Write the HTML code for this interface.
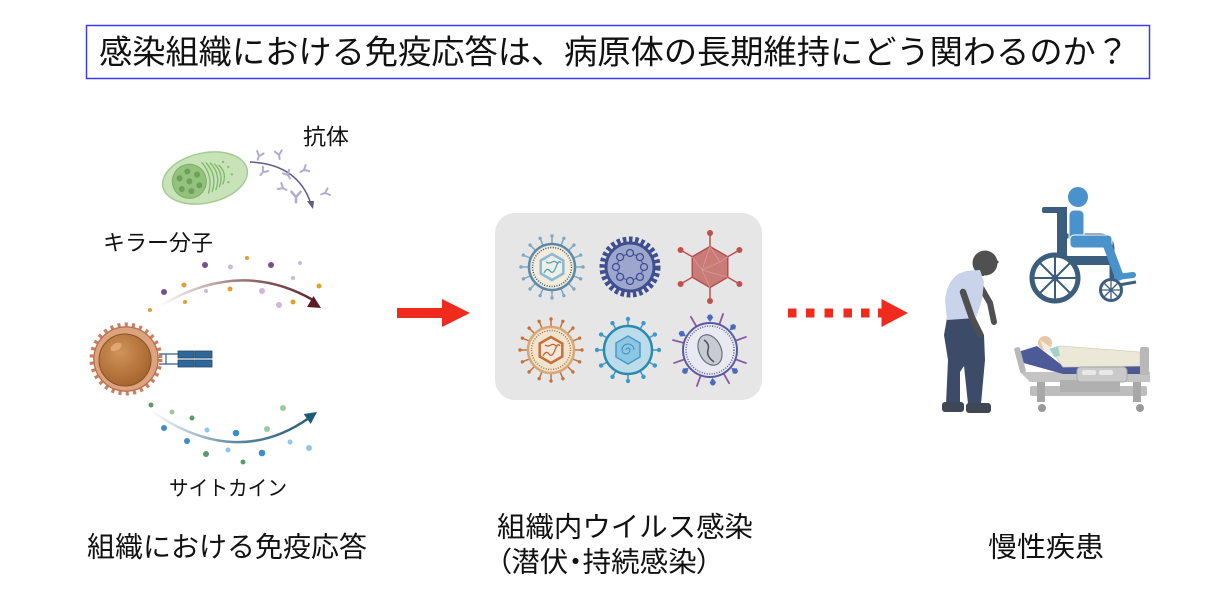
<!DOCTYPE html>
<html><head><meta charset="utf-8">
<style>
html,body{margin:0;padding:0;background:#fff;}
svg{display:block;}
text{font-family:"Liberation Sans","Noto Sans CJK JP",sans-serif;fill:#111;}
.palt{font-feature-settings:"palt" 1;}
</style></head>
<body>
<svg width="1222" height="615" viewBox="0 0 1222 615" xmlns="http://www.w3.org/2000/svg">
<defs>
  <g id="sp"><line x1="0" y1="-23" x2="0" y2="-30"/><circle cx="0" cy="-31" r="1.7" stroke="none"/></g>
  <g id="sp5"><line x1="0" y1="-24" x2="0" y2="-30"/><circle cx="0" cy="-31" r="2.2" stroke="none"/></g>
  <g id="sp6"><line x1="0" y1="-27" x2="0" y2="-39"/></g>
  <g id="bl6"><path d="M-3.5,-33 L3.5,-33 L0,-28 Z" stroke="none"/><circle cx="0" cy="-33" r="2.6" stroke="none"/></g>
  <g id="ab"><path d="M0,4 L0,0 L-3.5,-4 M0,0 L3.5,-4" fill="none" stroke-width="2" stroke-linecap="round"/></g>
  <linearGradient id="gk" x1="160" y1="0" x2="320" y2="0" gradientUnits="userSpaceOnUse">
    <stop offset="0" stop-color="#5a1e22" stop-opacity="0"/>
    <stop offset="0.5" stop-color="#5a1e22" stop-opacity="0.6"/>
    <stop offset="1" stop-color="#5a1e22"/>
  </linearGradient>
  <linearGradient id="gc" x1="150" y1="0" x2="316" y2="0" gradientUnits="userSpaceOnUse">
    <stop offset="0" stop-color="#1e5a78" stop-opacity="0"/>
    <stop offset="0.5" stop-color="#1e5a78" stop-opacity="0.7"/>
    <stop offset="1" stop-color="#1e5a78"/>
  </linearGradient>
  <radialGradient id="gn" cx="0.4" cy="0.35" r="0.7">
    <stop offset="0" stop-color="#cf9358"/>
    <stop offset="1" stop-color="#a5622c"/>
  </radialGradient>
</defs>

<!-- Title -->
<rect x="86.5" y="25.5" width="1063" height="53" fill="#fff" stroke="#3b3bef" stroke-width="1.5"/>
<text x="99" y="52" font-size="33" dominant-baseline="central" textLength="1030" lengthAdjust="spacingAndGlyphs">感染組織における免疫応答は、病原体の長期維持にどう関わるのか？</text>

<!-- Plasma cell (green) -->
<g transform="rotate(-12 205 178)">
  <ellipse cx="205" cy="178" rx="43" ry="25" fill="#c9e3b9" stroke="#a4cb90" stroke-width="1.5"/>
  <circle cx="189" cy="178" r="17" fill="#93c27c" stroke="#7dad68" stroke-width="1"/>
  <g fill="#6f9f5d">
    <circle cx="189" cy="178" r="3"/>
    <circle cx="189" cy="168" r="3"/><circle cx="189" cy="188" r="3"/>
    <circle cx="180" cy="173" r="3"/><circle cx="198" cy="173" r="3"/>
    <circle cx="180" cy="184" r="3"/><circle cx="198" cy="184" r="3"/>
  </g>
  <g fill="none" stroke="#7fb86a" stroke-width="1.3">
    <path d="M205,162 Q214,178 205,194"/>
    <path d="M209,163 Q218,178 209,193"/>
    <path d="M213,164 Q222,178 213,192"/>
    <path d="M217,166 Q225,178 217,190"/>
    <path d="M221,168 Q228,178 221,188"/>
  </g>
  <g fill="#8cbd76"><circle cx="230" cy="172" r="1.2"/><circle cx="232" cy="180" r="1.2"/><circle cx="227" cy="187" r="1.2"/><circle cx="226" cy="166" r="1.2"/></g>
</g>
<!-- antibodies -->
<path d="M250,162 Q298,164 311,204" fill="none" stroke="#5e5a8a" stroke-width="1.5"/>
<path d="M313,209 L307,201 L314,201 Z" fill="#5e5a8a"/>
<g stroke="#b2adcf">
  <use href="#ab" transform="translate(259,156) rotate(20)"/>
  <use href="#ab" transform="translate(279,155) rotate(-10)"/>
  <use href="#ab" transform="translate(263,172) rotate(40)"/>
  <use href="#ab" transform="translate(288,175) rotate(-30)"/>
  <use href="#ab" transform="translate(304,170) rotate(60)"/>
  <use href="#ab" transform="translate(296,197) rotate(0) scale(1.3)"/>
  <use href="#ab" transform="translate(325,193) rotate(70)"/>
  <use href="#ab" transform="translate(283,188) rotate(-60)"/>
</g>
<text x="303" y="137" font-size="22" dominant-baseline="central" textLength="46" lengthAdjust="spacingAndGlyphs">抗体</text>

<!-- Killer molecules -->
<text x="103" y="243" font-size="22" dominant-baseline="central" textLength="110" lengthAdjust="spacingAndGlyphs">キラー分子</text>
<path d="M160,306 Q240,258 313,300" fill="none" stroke="url(#gk)" stroke-width="2.5"/>
<path d="M321,308 L307,307 L313.5,296 Z" fill="#5a1e22"/>
<g fill="#7a4f8f"><circle cx="205" cy="265" r="3"/><circle cx="271" cy="265" r="3"/><circle cx="164" cy="292" r="3"/></g>
<g fill="#cbb8da"><circle cx="230.5" cy="267" r="2.5"/><circle cx="206" cy="291" r="2"/><circle cx="262" cy="291" r="3"/><circle cx="279" cy="305" r="3"/><circle cx="300" cy="263" r="2"/><circle cx="293" cy="278" r="2"/></g>
<g fill="#e0a030"><circle cx="247" cy="258" r="2"/><circle cx="184" cy="285" r="2.5"/><circle cx="230" cy="289" r="2.5"/><circle cx="185" cy="302" r="2"/><circle cx="150" cy="310" r="2"/><circle cx="319" cy="286" r="2.5"/><circle cx="293" cy="302" r="2.5"/></g>

<!-- Orange T cell -->
<circle cx="126" cy="359" r="33" fill="#dba17a" stroke="#c98062" stroke-width="7" stroke-dasharray="3 4"/>
<circle cx="126" cy="359" r="32" fill="#dca37c" stroke="#b86a50" stroke-width="1"/>
<circle cx="125" cy="360" r="26" fill="url(#gn)" stroke="#8a5028" stroke-width="1"/>
<ellipse cx="116" cy="347" rx="6" ry="3.5" fill="#e2b07e" opacity="0.8" transform="rotate(-30 116 347)"/>
<!-- receptor -->
<g stroke="#2f5f88" stroke-width="1.2"><line x1="159" y1="354" x2="178" y2="354"/><line x1="159" y1="364" x2="178" y2="364"/><line x1="166" y1="354" x2="166" y2="364"/></g>
<g fill="#2f6896" stroke="#1f4a70" stroke-width="0.8">
  <rect x="178" y="351" width="16" height="7"/><rect x="195" y="351" width="17" height="7"/>
  <rect x="178" y="360" width="16" height="7"/><rect x="195" y="360" width="17" height="7"/>
</g>

<!-- Cytokines -->
<path d="M150,410 Q235,470 309,418" fill="none" stroke="url(#gc)" stroke-width="2.5"/>
<path d="M317,412 L310.7,424 L303.7,414 Z" fill="#1e5a78"/>
<g fill="#5a9a6a"><circle cx="151" cy="405" r="2.5"/><circle cx="192" cy="418" r="2.5"/><circle cx="206" cy="454" r="3"/><circle cx="243" cy="462" r="2.5"/></g>
<g fill="#9ccaa0"><circle cx="172" cy="412" r="2.5"/><circle cx="267" cy="429" r="3"/><circle cx="283" cy="408" r="3"/></g>
<g fill="#3a8fc8"><circle cx="164" cy="428" r="3"/><circle cx="187" cy="441" r="3"/><circle cx="236" cy="433" r="3.3"/><circle cx="262" cy="453" r="3.3"/></g>
<g fill="#8cc8e8"><circle cx="207" cy="430" r="2.5"/><circle cx="228" cy="450" r="2.5"/><circle cx="290" cy="442" r="2.5"/><circle cx="309" cy="448" r="3"/></g>
<text x="169" y="489" font-size="21" dominant-baseline="central" textLength="118" lengthAdjust="spacingAndGlyphs">サイトカイン</text>

<!-- Red arrow solid -->
<rect x="397" y="308" width="46" height="10" fill="#f02a1c"/>
<path d="M442,299 L470,313 L442,327 Z" fill="#f02a1c"/>

<!-- Gray box with viruses -->
<rect x="495" y="213" width="267" height="187" rx="20" fill="#e6e6e6"/>

<!-- V1 -->
<g transform="translate(552,267)" stroke="#7ea8c4" fill="#7ea8c4" stroke-width="1.5">
  <use href="#sp"/><use href="#sp" transform="rotate(22.5)"/><use href="#sp" transform="rotate(45)"/><use href="#sp" transform="rotate(67.5)"/>
  <use href="#sp" transform="rotate(90)"/><use href="#sp" transform="rotate(112.5)"/><use href="#sp" transform="rotate(135)"/><use href="#sp" transform="rotate(157.5)"/>
  <use href="#sp" transform="rotate(180)"/><use href="#sp" transform="rotate(202.5)"/><use href="#sp" transform="rotate(225)"/><use href="#sp" transform="rotate(247.5)"/>
  <use href="#sp" transform="rotate(270)"/><use href="#sp" transform="rotate(292.5)"/><use href="#sp" transform="rotate(315)"/><use href="#sp" transform="rotate(337.5)"/>
</g>
<circle cx="552" cy="267" r="23" fill="#f1ecdc" stroke="#5e8aa8" stroke-width="2.5"/>
<circle cx="552" cy="267" r="19.5" fill="none" stroke="#3d5668" stroke-width="1.5" stroke-dasharray="1 1.5"/>
<polygon points="552,254 563.3,260.5 563.3,273.5 552,280 540.7,273.5 540.7,260.5" fill="#eef0e6" stroke="#8cb8d8" stroke-width="2.5"/>
<path d="M544,273 q3,-6 6,-2 t6,-4 t5,-4 M546,262 q3,2 6,0 t6,2" fill="none" stroke="#4aa0b8" stroke-width="1.2"/>

<!-- V2 -->
<circle cx="630" cy="267" r="27" fill="none" stroke="#3f4f91" stroke-width="7" stroke-dasharray="3.5 2.5"/>
<circle cx="630" cy="267" r="24" fill="#9da6cc" stroke="#3f4f91" stroke-width="3"/>
<polygon points="644,267 639.9,276.9 630,281 620.1,276.9 616,267 620.1,257.1 630,253 639.9,257.1" fill="none" stroke="#3f4f91" stroke-width="1"/>
<g fill="#9da6cc" stroke="#3f4f91" stroke-width="1.3">
  <circle cx="644" cy="267" r="3.5"/><circle cx="639.9" cy="276.9" r="3.5"/><circle cx="630" cy="281" r="3.5"/><circle cx="620.1" cy="276.9" r="3.5"/>
  <circle cx="616" cy="267" r="3.5"/><circle cx="620.1" cy="257.1" r="3.5"/><circle cx="630" cy="253" r="3.5"/><circle cx="639.9" cy="257.1" r="3.5"/>
</g>

<!-- V3 -->
<g stroke="#c0504d" stroke-width="1.5">
  <line x1="710" y1="246.5" x2="710" y2="233"/><line x1="727.75" y1="256.75" x2="739.4" y2="250"/><line x1="727.75" y1="277.25" x2="739.4" y2="284"/>
  <line x1="710" y1="287.5" x2="710" y2="301"/><line x1="692.25" y1="277.25" x2="680.6" y2="284"/><line x1="692.25" y1="256.75" x2="680.6" y2="250"/>
</g>
<g fill="#c0504d"><circle cx="710" cy="233" r="3"/><circle cx="739.4" cy="250" r="3"/><circle cx="739.4" cy="284" r="3"/><circle cx="710" cy="301" r="3"/><circle cx="680.6" cy="284" r="3"/><circle cx="680.6" cy="250" r="3"/></g>
<polygon points="710,246.5 727.75,256.75 727.75,277.25 710,287.5 692.25,277.25 692.25,256.75" fill="#c97b78" stroke="#b4504e" stroke-width="1.5"/>
<path d="M710,246.5 L702,270 L710,287.5 M702,270 L692.25,256.75 M702,270 L727.75,277.25 M710,246.5 L720,262 L727.75,256.75 M720,262 L702,270" fill="none" stroke="#d89a98" stroke-width="0.8"/>

<!-- V4 -->
<g transform="translate(551,350)" stroke="#c8703a" fill="#c8703a" stroke-width="1.5">
  <use href="#sp"/><use href="#sp" transform="rotate(22.5)"/><use href="#sp" transform="rotate(45)"/><use href="#sp" transform="rotate(67.5)"/>
  <use href="#sp" transform="rotate(90)"/><use href="#sp" transform="rotate(112.5)"/><use href="#sp" transform="rotate(135)"/><use href="#sp" transform="rotate(157.5)"/>
  <use href="#sp" transform="rotate(180)"/><use href="#sp" transform="rotate(202.5)"/><use href="#sp" transform="rotate(225)"/><use href="#sp" transform="rotate(247.5)"/>
  <use href="#sp" transform="rotate(270)"/><use href="#sp" transform="rotate(292.5)"/><use href="#sp" transform="rotate(315)"/><use href="#sp" transform="rotate(337.5)"/>
</g>
<circle cx="551" cy="350" r="23" fill="#f1e4cf" stroke="#d6a878" stroke-width="2.5"/>
<circle cx="551" cy="350" r="19.5" fill="none" stroke="#b0703e" stroke-width="1.5" stroke-dasharray="1 1.5"/>
<polygon points="551,337 562.3,343.5 562.3,356.5 551,363 539.7,356.5 539.7,343.5" fill="#f3e8d8" stroke="#c8703a" stroke-width="2.5"/>
<path d="M543,356 q3,-6 6,-2 t6,-4 t5,-4 M545,345 q3,2 6,0 t6,2" fill="none" stroke="#c0603a" stroke-width="1.2"/>

<!-- V5 -->
<g transform="translate(628,350)" stroke="#3a9ac8" fill="#3a9ac8" stroke-width="1.5">
  <use href="#sp5"/><use href="#sp5" transform="rotate(30)"/><use href="#sp5" transform="rotate(60)"/><use href="#sp5" transform="rotate(90)"/>
  <use href="#sp5" transform="rotate(120)"/><use href="#sp5" transform="rotate(150)"/><use href="#sp5" transform="rotate(180)"/><use href="#sp5" transform="rotate(210)"/>
  <use href="#sp5" transform="rotate(240)"/><use href="#sp5" transform="rotate(270)"/><use href="#sp5" transform="rotate(300)"/><use href="#sp5" transform="rotate(330)"/>
</g>
<circle cx="628" cy="350" r="24" fill="#bddcea" stroke="#2a8ab0" stroke-width="2.5"/>
<polygon points="628,336 640,343 640,357 628,364 616,357 616,343" fill="#8cc8e4" stroke="#4a9ac8" stroke-width="1.5"/>
<path d="M628,350 m-2,0 a2,2 0 1,1 4,0 a4,4 0 1,1 -8,0 a6,6 0 1,1 12,0" fill="none" stroke="#3a8ab8" stroke-width="1"/>

<!-- V6 -->
<g transform="translate(710,350)" stroke="#8a5aa8" stroke-width="1.8">
  <use href="#sp6" transform="rotate(20)"/><use href="#sp6" transform="rotate(70)"/><use href="#sp6" transform="rotate(110)"/><use href="#sp6" transform="rotate(150)"/>
  <use href="#sp6" transform="rotate(200)"/><use href="#sp6" transform="rotate(250)"/><use href="#sp6" transform="rotate(285)"/><use href="#sp6" transform="rotate(330)"/>
</g>
<g transform="translate(710,350)" fill="#4a6ac0">
  <use href="#bl6" transform="rotate(0)"/><use href="#bl6" transform="rotate(45)"/><use href="#bl6" transform="rotate(130)"/><use href="#bl6" transform="rotate(175)"/>
  <use href="#bl6" transform="rotate(230)"/><use href="#bl6" transform="rotate(300)"/>
</g>
<circle cx="710" cy="350" r="27" fill="#e9e9f1" stroke="#5a5aa0" stroke-width="2"/>
<circle cx="710" cy="350" r="24" fill="none" stroke="#5a5a9a" stroke-width="1.5" stroke-dasharray="1 1.5"/>
<ellipse cx="710" cy="350" rx="11" ry="16" transform="rotate(-25 710 350)" fill="#c8ccd2" stroke="#6a7080" stroke-width="1.2"/>
<path d="M704,340 q6,4 4,10 t6,12" fill="none" stroke="#4a5060" stroke-width="1.5"/>

<!-- Dotted red arrow -->
<g fill="#f02a1c">
  <rect x="788" y="308.5" width="8.5" height="9"/>
  <rect x="806" y="308.5" width="8.5" height="9"/>
  <rect x="824.5" y="308.5" width="8.5" height="9"/>
  <rect x="843.5" y="308.5" width="8.5" height="9"/>
  <rect x="861" y="308.5" width="8.5" height="9"/>
  <rect x="878" y="308.5" width="6" height="9"/>
  <path d="M881.5,299 L908,313 L881.5,327 Z"/>
</g>

<!-- Wheelchair -->
<g>
  <circle cx="1078" cy="197" r="10" fill="#4a92cc"/>
  <rect x="1042" y="207" width="25" height="6" rx="2" fill="#3b5e7e"/>
  <rect x="1057" y="207" width="10" height="57" fill="#3b5e7e"/>
  <path d="M1063,236 L1100,236 Q1112,236 1112,250 L1112,284" fill="none" stroke="#3b5e7e" stroke-width="5"/>
  <rect x="1060" y="256" width="55" height="9" fill="#3b5e7e"/>
  <rect x="1069" y="210" width="15" height="36" rx="5" fill="#4a92cc" stroke="#fff" stroke-width="1"/>
  <rect x="1070" y="235" width="42" height="13" rx="4" fill="#4a92cc" stroke="#fff" stroke-width="1"/>
  <path d="M1107,244 L1119,276" stroke="#4a92cc" stroke-width="9" stroke-linecap="round"/>
  <path d="M1117,277 L1133,275" stroke="#4a92cc" stroke-width="6" stroke-linecap="round"/>
  <path d="M1113,286 L1136,282" stroke="#3b5e7e" stroke-width="3"/>
  <circle cx="1055" cy="278" r="23" fill="#fff" stroke="#3b5e7e" stroke-width="5"/>
  <g stroke="#3b5e7e" stroke-width="2">
    <line x1="1055" y1="257" x2="1055" y2="299"/><line x1="1034" y1="278" x2="1076" y2="278"/>
    <line x1="1040" y1="263" x2="1070" y2="293"/><line x1="1070" y1="263" x2="1040" y2="293"/>
  </g>
  <circle cx="1055" cy="278" r="3.5" fill="#3b5e7e"/>
  <circle cx="1111" cy="290" r="10.5" fill="#fff" stroke="#3b5e7e" stroke-width="3"/>
  <g stroke="#3b5e7e" stroke-width="1.3">
    <line x1="1111" y1="280" x2="1111" y2="300"/><line x1="1101" y1="290" x2="1121" y2="290"/>
    <line x1="1104" y1="283" x2="1118" y2="297"/><line x1="1118" y1="283" x2="1104" y2="297"/>
  </g>
</g>

<!-- Old man -->
<g>
  <path d="M979,284 L990,303 L994,322" fill="none" stroke="#4f4f4f" stroke-width="6" stroke-linecap="round"/>
  <rect x="976" y="268" width="8" height="8" fill="#4f4f4f"/>
  <circle cx="985" cy="263" r="12.5" fill="#505050"/>
  <path d="M995,258 L999,262 L996,265 Z" fill="#505050"/>
  <path d="M947,318 L974,316 L984,335 L985,360 L981,404 L968,404 L964,366 L960,372 L960,404 L946,404 L948,360 L944,335 Z" fill="#3c4b68"/>
  <path d="M966,271 L980,270 L984,282 L982,300 L976,318 L947,320 L945,300 Q947,282 958,274 Z" fill="#c9d3ea"/>
  <path d="M963,292 L972,318 L980,334" fill="none" stroke="#4f4f4f" stroke-width="6.5" stroke-linecap="round"/>
  <rect x="942" y="402" width="22" height="10" rx="3" fill="#3f4654"/>
  <rect x="966" y="403" width="25" height="10" rx="3" fill="#3f4654"/>
</g>

<!-- Bed -->
<g>
  <rect x="1030" y="386" width="117" height="10" rx="2" fill="#bdbdbd"/>
  <rect x="1037" y="380" width="8" height="22" fill="#a8a8a8"/>
  <rect x="1133" y="380" width="8" height="22" fill="#a8a8a8"/>
  <circle cx="1042" cy="408" r="4" fill="#999"/>
  <circle cx="1140" cy="408" r="4" fill="#999"/>
  <polygon points="1020,372 1150,372 1150,382 1030,382" fill="#c4c4c4"/>
  <rect x="1060" y="380" width="60" height="12" fill="#b0b0b0"/>
  <polygon points="1018,352 1037,346 1063,366 1143,364 1143,374 1063,374 1020,362" fill="#4d5a98"/>
  <circle cx="1045" cy="343" r="7" fill="#e6c8a6"/>
  <polygon points="1040,340 1052,348 1057,355 1045,352" fill="#f2ede2"/>
  <polygon points="1050,349 1060,346 1140,352 1140,366 1063,367" fill="#ece8d8" stroke="#d6d0bc" stroke-width="0.8"/>
  <polygon points="1050,349 1058,346 1060,356 1054,357" fill="#9fd4cc"/>
  <rect x="1140" y="347" width="9" height="28" rx="2" fill="#b8b8b8"/>
  <rect x="1017" y="347" width="6" height="26" rx="2" fill="#b8b8b8" transform="rotate(-15 1020 360)"/>
  <rect x="1077" y="367" width="50" height="15" rx="4" fill="#cacaca" stroke="#a8a8a8" stroke-width="1"/>
  <rect x="1082" y="370" width="14" height="5" rx="2" fill="#e8e8e8"/>
  <rect x="1099" y="370" width="14" height="5" rx="2" fill="#e8e8e8"/>
</g>

<!-- Bottom labels -->
<text x="87" y="547" font-size="28" dominant-baseline="central" textLength="280" lengthAdjust="spacingAndGlyphs">組織における免疫応答</text>
<text x="497" y="527" font-size="28" dominant-baseline="central" textLength="256" lengthAdjust="spacingAndGlyphs">組織内ウイルス感染</text>
<text class="palt" x="497" y="562" font-size="28" dominant-baseline="central" textLength="214" lengthAdjust="spacingAndGlyphs">（潜伏・持続感染）</text>
<text x="988" y="547" font-size="28" dominant-baseline="central" textLength="116" lengthAdjust="spacingAndGlyphs">慢性疾患</text>
</svg>
</body></html>
